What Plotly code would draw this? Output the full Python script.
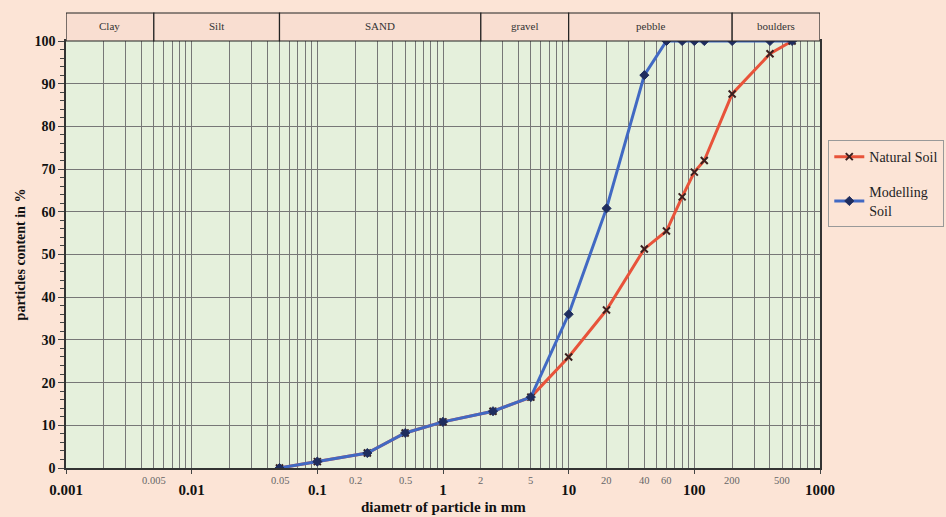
import numpy as np
import plotly.graph_objects as go

# ---------------- data ----------------
model_d = [0.05, 0.1, 0.25, 0.5, 1, 2.5, 5, 10, 20, 40, 60, 80, 100, 120, 200, 400, 600]
model_p = [0, 1.5, 3.5, 8.2, 10.8, 13.3, 16.6, 36, 60.8, 92, 100, 100, 100, 100, 100, 100, 100]

natural_d = [0.05, 0.1, 0.25, 0.5, 1, 2.5, 5, 10, 20, 40, 60, 80, 100, 120, 200, 400, 600]
natural_p = [0, 1.5, 3.5, 8.2, 10.8, 13.3, 16.6, 26, 37, 51.3, 55.5, 63.5, 69.3, 72, 87.6, 97, 100]

major_ticks = [0.001, 0.01, 0.1, 1, 10, 100, 1000]
major_labels = ["0.001", "0.01", "0.1", "1", "10", "100", "1000"]
minor_label_vals = [0.005, 0.05, 0.2, 0.5, 2, 5, 20, 40, 60, 200, 500]
minor_label_text = ["0.005", "0.05", "0.2", "0.5", "2", "5", "20", "40", "60", "200", "500"]

class_bounds = [0.001, 0.005, 0.05, 2, 10, 200, 1000]
class_names = ["Clay", "Silt", "SAND", "gravel", "pebble", "boulders"]

# ---------------- figure ----------------
SERIF = "Liberation Serif"
PAPER = "#FCE4D6"
PLOTBG = "#E5F0DC"
GRID = "#777777"

fig = go.Figure()
fig.add_trace(go.Scatter(
    x=natural_d, y=natural_p, mode="lines+markers", name="Natural Soil", legendgroup="a",
    line=dict(color="#E8533A", width=3),
    marker=dict(symbol="x-thin", size=7, color="#3a2020", line=dict(width=2, color="#3a2020")),
))
fig.add_trace(go.Scatter(
    x=model_d, y=model_p, mode="lines+markers", name="Modelling<br>Soil", legendgroup="b",
    line=dict(color="#4169C3", width=3),
    marker=dict(symbol="diamond", size=7, color="#1F2D5E", line=dict(width=1, color="#1F2D5E")),
))

minor_grid = [m * 10.0 ** e for e in range(-3, 3) for m in range(2, 10)]

fig.update_xaxes(
    type="log", range=[-3, 3],
    tickvals=major_ticks, ticktext=["<b>%s</b>" % t for t in major_labels],
    tickfont=dict(family=SERIF, size=15, color="#111"),
    ticks="outside", ticklen=4, tickcolor="#444",
    ticklabelstandoff=3,
    showgrid=True, gridcolor=GRID, gridwidth=1,
    minor=dict(tickvals=minor_grid, showgrid=True, gridcolor=GRID, gridwidth=1, ticks=""),
    showline=True, linecolor="#333", linewidth=1.5, mirror=True, zeroline=False,
)
fig.update_yaxes(
    range=[0, 100], dtick=10,
    tickfont=dict(family=SERIF, size=14, color="#111"),
    tickprefix="<b>", ticksuffix="</b>",
    ticks="outside", ticklen=6, tickcolor="#444",
    minor=dict(dtick=2, ticks="outside", ticklen=4, tickcolor="#444", showgrid=False),
    showgrid=True, gridcolor=GRID, gridwidth=1,
    showline=True, linecolor="#333", linewidth=1.5, mirror=True, zeroline=False,
    title=dict(text="<b>particles content in %</b>", font=dict(family=SERIF, size=14, color="#111"), standoff=6),
)

# minor x labels
for v, t in zip(minor_label_vals, minor_label_text):
    fig.add_annotation(x=np.log10(v), xref="x", y=0, yref="paper", yshift=-12,
                       text=t, showarrow=False, yanchor="middle",
                       font=dict(family=SERIF, size=10.5, color="#666"))

# x title
fig.add_annotation(x=0.5, xref="paper", y=0, yref="paper", yshift=-39,
                   text="<b>diametr of particle in mm</b>", showarrow=False, yanchor="middle",
                   font=dict(family=SERIF, size=15, color="#111"))

# header band with soil classes
band_h = 28 / 427
for i, name in enumerate(class_names):
    b0, b1 = class_bounds[i], class_bounds[i + 1]
    fig.add_shape(type="rect", xref="x", yref="paper", x0=b0, x1=b1, y0=1, y1=1 + band_h,
                  fillcolor="#F9DED1", line=dict(color="#222", width=1.2), layer="above")
    fig.add_annotation(x=(np.log10(b0) + np.log10(b1)) / 2, xref="x", y=1 + band_h * 0.55, yref="paper",
                       text=name, showarrow=False, yanchor="middle",
                       font=dict(family=SERIF, size=11, color="#333"))

fig.update_layout(
    width=946, height=517,
    margin=dict(l=66, r=126, t=41, b=49, autoexpand=False),
    paper_bgcolor=PAPER, plot_bgcolor=PLOTBG,
    showlegend=True,
    legend=dict(x=1.011, y=0.768, xanchor="left", yanchor="top",
                bgcolor=PAPER, bordercolor="#999", borderwidth=1,
                font=dict(family=SERIF, size=14, color="#222"),
                itemwidth=30, tracegroupgap=14),
)

fig.write_html("out.html")
